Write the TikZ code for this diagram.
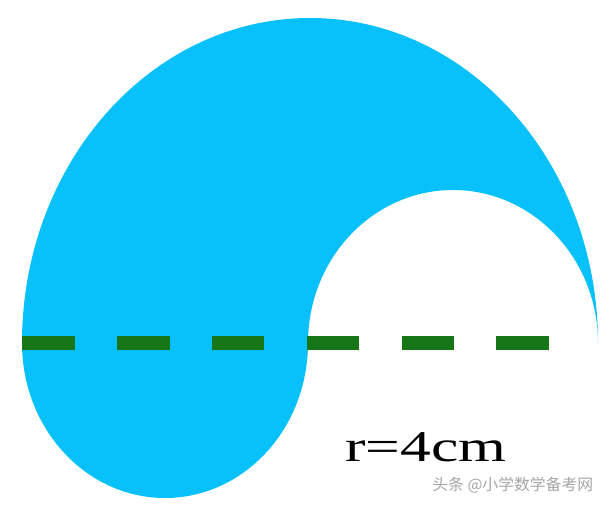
\documentclass[tikz,border=0pt]{standalone}
\usepackage{fontspec}
\setmainfont{Liberation Serif}
\newfontfamily\cjk{Noto Sans CJK SC}
\definecolor{skyfill}{RGB}{8,192,250}
\definecolor{dashgreen}{RGB}{22,118,24}
\tikzset{
  shape fill/.style={fill=skyfill, draw=none},
  mid line/.style={draw=dashgreen, line width=7.9pt, dash pattern=on 30pt off 24pt},
  radius label/.style={anchor=base west, inner sep=0pt, font=\fontsize{25}{30}\selectfont, xscale=1.4},
  mark text/.style={anchor=west, inner sep=0pt, text=gray!70, font=\cjk\fontsize{9}{10}\selectfont}
}
\begin{document}
\begin{tikzpicture}[x=0.02cm, y=0.02cm]
      \useasboundingbox (0,0) rectangle (600,505);
      \coordinate (L) at (22,162);
      \coordinate (M) at (308,162);
      \coordinate (R) at (598,162);
      \coordinate (E) at (552,162);
      \fill[shape fill] (L)
        arc[start angle=180, end angle=0, x radius=288, y radius=325]
        arc[start angle=0, end angle=180, x radius=145, y radius=153]
        arc[start angle=0, end angle=-180, x radius=143, y radius=155]
        -- cycle;
      \draw[mid line] (L) -- (E);
      \node[radius label] (r) at (345,43) {r=4cm};
      \node[mark text] (wm) at (432,20) {头条 @小学数学备考网};
    \end{tikzpicture}
\end{document}
